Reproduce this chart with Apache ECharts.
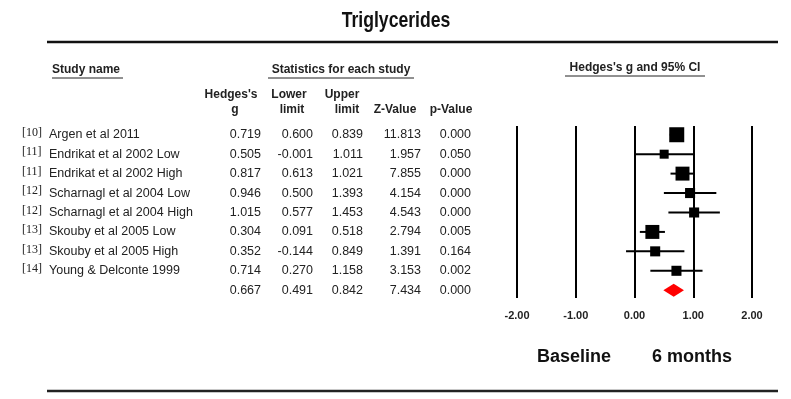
<!DOCTYPE html>
<html>
<head>
<meta charset="utf-8">
<script src="https://cdn.jsdelivr.net/npm/echarts@6/dist/echarts.min.js"></script>
<style>html,body{margin:0;padding:0;background:#fff}#c{width:791px;height:399px}</style>
</head>
<body>
<div id="c"></div>
<script>
// ---- data ----
const refs = ['[10]','[11]','[11]','[12]','[12]','[13]','[13]','[14]'];
const studies = ['Argen et al 2011','Endrikat et al 2002 Low','Endrikat et al 2002 High','Scharnagl et al 2004 Low','Scharnagl et al 2004 High','Skouby et al 2005 Low','Skouby et al 2005 High','Young & Delconte 1999'];
const hedgesG = [0.719,0.505,0.817,0.946,1.015,0.304,0.352,0.714];
const lowerLimit = [0.600,-0.001,0.613,0.500,0.577,0.091,-0.144,0.270];
const upperLimit = [0.839,1.011,1.021,1.393,1.453,0.518,0.849,1.158];
const zValue = [11.813,1.957,7.855,4.154,4.543,2.794,1.391,3.153];
const pValue = [0.000,0.050,0.000,0.000,0.000,0.005,0.164,0.002];
const relWeight = [1.0,0.6,0.93,0.67,0.67,0.93,0.67,0.67];
const summaryStats = [0.667,0.491,0.842,7.434,0.000]; // g, lower, upper, z, p
const xTicks = [-2,-1,0,1,2];
const columnHeaders = [["Hedges's","g"],["Lower","limit"],["Upper","limit"],["","Z-Value"],["","p-Value"]];

// ---- layout ----
const FONT = '"Liberation Sans", Arial, sans-serif';
const TXT = '#222';
const colRight = [261,313,363,421,471];
const colHeadCenter = [[231,235],[289,292],[342,347],[395,395],[451,451]];
const nameX = 49, refX = 22;
const boxMax = 15;

const chart = echarts.init(document.getElementById('c'), null, {renderer:'canvas'});

const tableRows = studies.map((s,i)=>[i, refs[i], s, hedgesG[i], lowerLimit[i], upperLimit[i], zValue[i], pValue[i]]);
tableRows.push([studies.length, '', '', summaryStats[0], summaryStats[1], summaryStats[2], summaryStats[3], summaryStats[4]]);

const forestRows = studies.map((s,i)=>[i, hedgesG[i], lowerLimit[i], upperLimit[i], relWeight[i]]);

const yAx = (gi)=>({type:'value', gridIndex:gi, inverse:true, min:-0.45, max:8.4, show:false, splitLine:{show:false}});

const headerGraphics = [];
columnHeaders.forEach((h,k)=>{
  if (h[0]) headerGraphics.push({type:'text', x:colHeadCenter[k][0], y:95, style:{text:h[0], font:'bold 12px '+FONT, fill:TXT, textAlign:'center', textVerticalAlign:'middle'}});
  headerGraphics.push({type:'text', x:colHeadCenter[k][1], y:110, style:{text:h[1], font:'bold 12px '+FONT, fill:TXT, textAlign:'center', textVerticalAlign:'middle'}});
});

const option = {
  animation:false,
  backgroundColor:'#fff',
  grid:[
    {left:517, width:235, top:126, height:172},
    {left:0, width:517, top:126, height:172}
  ],
  xAxis:[
    {type:'value', gridIndex:0, min:xTicks[0], max:xTicks[xTicks.length-1], interval:1,
     axisLine:{show:false}, axisTick:{show:false},
     splitLine:{show:true, showMinLine:true, showMaxLine:true, lineStyle:{color:'#000', width:2}},
     axisLabel:{margin:12, fontFamily:FONT, fontWeight:'bold', fontSize:11, color:TXT, formatter:v=>v.toFixed(2)}},
    {type:'value', gridIndex:1, min:0, max:517, show:false, splitLine:{show:false}}
  ],
  yAxis:[yAx(0), yAx(1)],
  graphic:[
    {type:'text', x:396, y:21, scaleX:0.8, originX:0, style:{text:'Triglycerides', font:'bold 22px '+FONT, fill:'#111', textAlign:'center', textVerticalAlign:'middle'}},
    {type:'line', shape:{x1:47,y1:42,x2:778,y2:42}, style:{stroke:'#111', lineWidth:2.5}},
    {type:'line', shape:{x1:47,y1:391,x2:778,y2:391}, style:{stroke:'#222', lineWidth:2.5}},
    {type:'text', x:52, y:70, style:{text:'Study name', font:'bold 12px '+FONT, fill:TXT, textAlign:'left', textVerticalAlign:'middle'}},
    {type:'line', shape:{x1:52,y1:78,x2:123,y2:78}, style:{stroke:TXT, lineWidth:1}},
    {type:'text', x:341, y:70, style:{text:'Statistics for each study', font:'bold 12px '+FONT, fill:TXT, textAlign:'center', textVerticalAlign:'middle'}},
    {type:'line', shape:{x1:268,y1:78,x2:414,y2:78}, style:{stroke:TXT, lineWidth:1}},
    {type:'text', x:635, y:68, style:{text:"Hedges's g and 95% CI", font:'bold 12px '+FONT, fill:TXT, textAlign:'center', textVerticalAlign:'middle'}},
    {type:'line', shape:{x1:565,y1:76,x2:705,y2:76}, style:{stroke:TXT, lineWidth:1}},
    {type:'text', x:574, y:357, style:{text:'Baseline', font:'bold 18px '+FONT, fill:'#111', textAlign:'center', textVerticalAlign:'middle'}},
    {type:'text', x:692, y:357, style:{text:'6 months', font:'bold 18px '+FONT, fill:'#111', textAlign:'center', textVerticalAlign:'middle'}}
  ].concat(headerGraphics),
  series:[
    {
      type:'custom', xAxisIndex:1, yAxisIndex:1, data:tableRows, silent:true,
      renderItem:(params, api)=>{
        const i = api.value(0);
        const row = tableRows[params.dataIndex];
        const y = api.coord([0, i])[1];
        const children = [];
        if (row[1]) children.push({type:'text', style:{text:row[1], x:api.coord([refX,i])[0], y:y-2, font:'12px "Liberation Serif", serif', fill:TXT, textAlign:'left', textVerticalAlign:'middle'}});
        if (row[2]) children.push({type:'text', style:{text:row[2], x:api.coord([nameX,i])[0], y:y, font:'12.5px '+FONT, fill:TXT, textAlign:'left', textVerticalAlign:'middle'}});
        for (let k=0;k<5;k++){
          children.push({type:'text', style:{text:Number(row[3+k]).toFixed(3), x:api.coord([colRight[k],i])[0], y:y, font:'12.5px '+FONT, fill:TXT, textAlign:'right', textVerticalAlign:'middle'}});
        }
        return {type:'group', children};
      }
    },
    {
      type:'custom', xAxisIndex:0, yAxisIndex:0, data:forestRows, silent:true, clip:false,
      renderItem:(params, api)=>{
        const i = api.value(0);
        const c = api.coord([api.value(1), i]);
        const lo = api.coord([api.value(2), i]);
        const hi = api.coord([api.value(3), i]);
        const s = boxMax * api.value(4);
        return {type:'group', children:[
          {type:'line', shape:{x1:lo[0], y1:c[1], x2:hi[0], y2:c[1]}, style:{stroke:'#000', lineWidth:2}},
          {type:'rect', shape:{x:c[0]-s/2, y:c[1]-s/2, width:s, height:s}, style:{fill:'#000'}}
        ]};
      }
    },
    {
      type:'custom', xAxisIndex:0, yAxisIndex:0, data:[[studies.length, summaryStats[0], summaryStats[1], summaryStats[2]]], silent:true, clip:false,
      renderItem:(params, api)=>{
        const i = api.value(0);
        const c = api.coord([api.value(1), i]);
        const lo = api.coord([api.value(2), i]);
        const hi = api.coord([api.value(3), i]);
        const h = 6.5;
        return {type:'polygon', shape:{points:[[lo[0],c[1]],[c[0],c[1]-h],[hi[0],c[1]],[c[0],c[1]+h]]}, style:{fill:'#f00'}};
      }
    }
  ]
};
chart.setOption(option);
</script>
</body>
</html>
